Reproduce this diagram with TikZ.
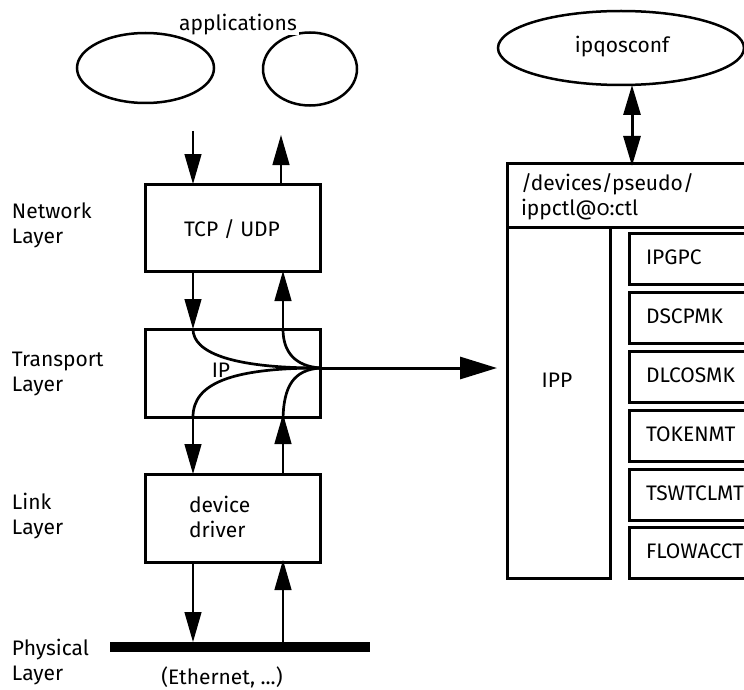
\documentclass[tikz,border=0pt]{standalone}
\usepackage{fontspec}
\setmainfont{Fira Sans}[Numbers=OldStyle]
\usetikzlibrary{arrows.meta,shapes.geometric}

\tikzset{
  box/.style={draw, line width=3pt, rectangle, inner sep=0pt, outer sep=0pt, anchor=north west},
  oval/.style={draw, line width=2.5pt, ellipse, inner sep=0pt, outer sep=0pt},
  txt/.style={inner sep=0pt, outer sep=0pt, align=left},
  arr/.style={line width=1.3pt, -{Triangle[length=30pt,width=17pt]}},
  dblarr/.style={line width=3pt, {Triangle[length=30pt,width=17pt]}-{Triangle[length=30pt,width=17pt]}},
  bigarr/.style={line width=3pt, -{Triangle[length=37pt,width=22pt]}},
  flow/.style={line width=2.7pt},
}

\begin{document}
\begin{tikzpicture}[x=1pt, y=-1pt, font=\fontsize{21}{25}\selectfont]
\useasboundingbox (0,0) rectangle (744,690);
\clip (0,0) rectangle (744,690);

% applications
\node[oval, minimum width=137pt, minimum height=70pt] (app1) at (145.5,68) {};
\node[oval, minimum width=94pt, minimum height=73pt] (app2) at (310,69) {};
\node[txt, fill=white, inner xsep=2pt] (apps) at (238,25) {applications};

% layer labels
\node[txt, anchor=west] (lnet) at (12,225) {Network\\Layer};
\node[txt, anchor=west] (ltrn) at (12,374) {Transport\\Layer};
\node[txt, anchor=west] (llnk) at (12,516) {Link\\Layer};
\node[txt, anchor=west] (lphy) at (12,662) {Physical\\Layer};

% protocol stack
\node[box, minimum width=175pt, minimum height=87pt] (tcp) at (145,184) {};
\node[txt] (tcpt) at (232,229) {TCP / UDP};
\node[box, minimum width=175pt, minimum height=88pt] (ip) at (145,329) {};
\node[txt] (ipt) at (221,370) {IP};
\node[box, minimum width=175pt, minimum height=88pt] (drv) at (145,474) {};
\node[txt, anchor=west] (drvt) at (189,517) {device\\driver};
\node[fill=black, minimum width=260pt, minimum height=10pt, inner sep=0pt, outer sep=0pt] (bar) at (240,647) {};
\node[txt] (eth) at (222,677) {(Ethernet, ...)};

% vertical arrows between layers
\coordinate (dnA) at (193,131);
\coordinate (upA) at (281,135);
\draw[arr] (dnA) -- (dnA |- tcp.north);
\draw[arr] (upA |- tcp.north) -- (upA);

\coordinate (dnX) at (193,0);
\coordinate (upX) at (283,0);
\draw[arr] (dnX |- tcp.south) -- (dnX |- ip.north);
\draw[arr] (upX |- ip.north) -- (upX |- tcp.south);
\draw[arr] (dnX |- ip.south) -- (dnX |- drv.north);
\draw[arr] (upX |- drv.north) -- ([yshift=3pt]upX |- ip.south);
\draw[arr] (dnX |- drv.south) -- (dnX |- bar.north);
\draw[arr] (upX |- bar.north) -- ([yshift=2pt]upX |- drv.south);

% IP redirection into IPP
\coordinate (junc) at (320,368);
\draw[flow] (dnX |- ip.north) .. controls (193,352) and (230,368) .. (junc);
\draw[flow] (upX |- ip.north) .. controls (283,352) and (295,366) .. (junc);
\draw[flow] (dnX |- ip.south) .. controls (193,384) and (230,368) .. (junc);
\draw[flow] ([yshift=-5pt]upX |- ip.south) .. controls (283,384) and (295,370) .. (junc);

% IPQoS side
\node[oval, minimum width=246pt, minimum height=74pt] (conf) at (621,48) {};
\node[txt] (conft) at (622,47) {ipqosconf};
\node[box, minimum width=270pt, minimum height=64pt] (hdr) at (507,163) {};
\node[txt, anchor=west] (hdrt) at (521,197) {/devices/pseudo/\\ippctl@0:ctl};
\node[box, minimum width=103pt, minimum height=351pt] (ipp) at (507,227) {};
\node[txt] (ippt) at (557,380) {IPP};

\draw[bigarr] (junc) -- ([xshift=-10pt]ipp.west |- junc);
\draw[dblarr] (conf.south -| 632,0) -- ([yshift=-3pt]hdr.north -| 632,0);

% IPP modules
\foreach \name/\top in {IPGPC/233, DSCPMK/292, DLCOSMK/351, TOKENMT/410, TSWTCLMT/469, FLOWACCT/527}{
  \node[box, minimum width=140pt, minimum height=51pt] (m\name) at (629,\top) {};
  \node[txt, anchor=west] (t\name) at (646,\top+24) {\name};
}
\end{tikzpicture}
\end{document}
